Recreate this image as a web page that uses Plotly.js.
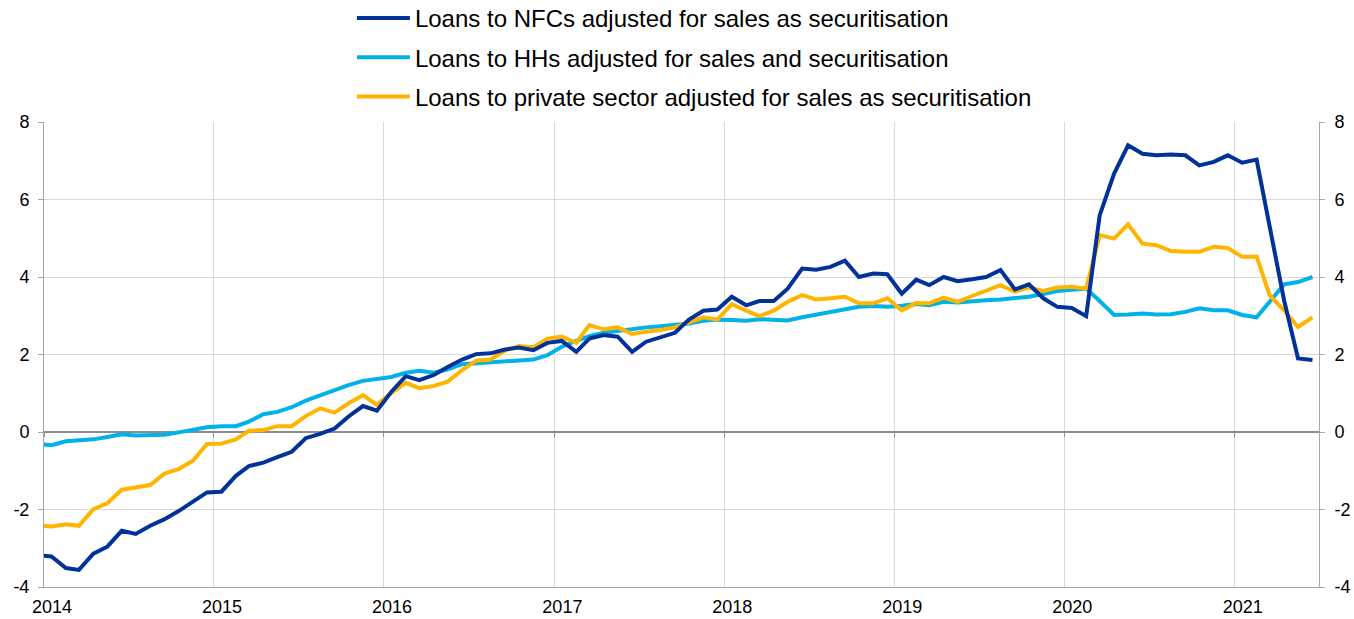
<!DOCTYPE html>
<html>
<head>
<meta charset="utf-8">
<script src="https://cdn.plot.ly/plotly-3.0.1.min.js"></script>
<style>
  html, body { margin: 0; padding: 0; background: #ffffff; }
  #chart { width: 1354px; height: 619px; }
</style>
</head>
<body>
<div id="chart"></div>
<script>
// Monthly observations, Dec 2013 (clipped at the left edge) to Jun 2021
const startYear = 2013;
const startMonth = 12;

const seriesNames = [
  "Loans to NFCs adjusted for sales as securitisation",
  "Loans to HHs adjusted for sales and securitisation",
  "Loans to private sector adjusted for sales as securitisation"
];

const nfcLoans = [
  -3.18,
  -3.21, -3.51, -3.56, -3.14, -2.96, -2.55, -2.63, -2.42, -2.25, -2.04, -1.80, -1.56,
  -1.54, -1.13, -0.88, -0.79, -0.65, -0.51, -0.16, -0.05, 0.09, 0.40, 0.67, 0.55,
  1.04, 1.44, 1.34, 1.47, 1.68, 1.87, 2.01, 2.03, 2.13, 2.18, 2.11, 2.30,
  2.35, 2.07, 2.41, 2.50, 2.46, 2.07, 2.33, 2.44, 2.56, 2.90, 3.13, 3.16,
  3.49, 3.27, 3.38, 3.38, 3.70, 4.22, 4.19, 4.26, 4.42, 4.00, 4.09, 4.07,
  3.57, 3.93, 3.79, 4.00, 3.89, 3.94, 4.00, 4.18, 3.68, 3.81, 3.45, 3.23,
  3.20, 2.99, 5.59, 6.67, 7.40, 7.18, 7.14, 7.16, 7.14, 6.88, 6.97, 7.14,
  6.95, 7.03, 5.29, 3.40, 1.90, 1.86
];

const hhLoans = [
  -0.31,
  -0.34, -0.24, -0.21, -0.19, -0.13, -0.06, -0.09, -0.09, -0.07, -0.01, 0.05, 0.12,
  0.15, 0.15, 0.27, 0.46, 0.52, 0.64, 0.81, 0.95, 1.10, 1.21, 1.32, 1.36,
  1.42, 1.53, 1.58, 1.53, 1.62, 1.75, 1.77, 1.79, 1.81, 1.84, 1.87, 1.98,
  2.20, 2.35, 2.47, 2.56, 2.61, 2.65, 2.70, 2.73, 2.76, 2.80, 2.87, 2.90,
  2.89, 2.87, 2.91, 2.90, 2.88, 2.96, 3.03, 3.10, 3.16, 3.23, 3.25, 3.23,
  3.26, 3.30, 3.27, 3.36, 3.34, 3.38, 3.40, 3.42, 3.45, 3.49, 3.56, 3.64,
  3.67, 3.70, 3.38, 3.02, 3.03, 3.06, 3.03, 3.04, 3.10, 3.19, 3.14, 3.14,
  3.02, 2.96, 3.36, 3.81, 3.87, 4.00
];

const privateLoans = [
  -2.41,
  -2.44, -2.38, -2.42, -1.99, -1.84, -1.49, -1.43, -1.37, -1.07, -0.96, -0.74, -0.31,
  -0.30, -0.19, 0.03, 0.05, 0.15, 0.15, 0.41, 0.61, 0.50, 0.74, 0.95, 0.70,
  1.01, 1.27, 1.13, 1.19, 1.30, 1.60, 1.84, 1.87, 2.10, 2.22, 2.19, 2.41,
  2.46, 2.30, 2.76, 2.65, 2.70, 2.53, 2.59, 2.63, 2.70, 2.82, 2.96, 2.90,
  3.30, 3.13, 2.99, 3.13, 3.36, 3.53, 3.42, 3.45, 3.49, 3.32, 3.32, 3.45,
  3.14, 3.33, 3.32, 3.47, 3.36, 3.51, 3.64, 3.79, 3.62, 3.73, 3.64, 3.73,
  3.75, 3.70, 5.08, 4.99, 5.36, 4.86, 4.82, 4.67, 4.65, 4.65, 4.78, 4.75,
  4.52, 4.53, 3.53, 3.14, 2.71, 2.96
];

const yearTickValues = ["2014-01-01","2015-01-01","2016-01-01","2017-01-01","2018-01-01","2019-01-01","2020-01-01","2021-01-01"];
const yearTickLabels = ["2014","2015","2016","2017","2018","2019","2020","2021"];
const yTickValues = [-4, -2, 0, 2, 4, 6, 8];
const yTickLabels = ["-4", "-2", "0", "2", "4", "6", "8"];

// monthly date categories (plotted near mid-month), one per observation
const months = nfcLoans.map((_, i) => {
  const t = (startMonth - 1) + i;
  const y = startYear + Math.floor(t / 12);
  const m = (t % 12) + 1;
  return y + "-" + String(m).padStart(2, "0") + "-17";
});

const colors = ["#003299", "#00B1EA", "#FFB400"];
const fontFamily = "'Liberation Sans', Arial, sans-serif";

function lineTrace(values, idx, order) {
  return {
    x: months, y: values, type: "scatter", mode: "lines",
    name: seriesNames[idx],
    legendgroup: "g" + idx, legendrank: order,
    line: { color: colors[idx], width: 4 },
    hoverinfo: "x+y"
  };
}

const traces = [
  lineTrace(hhLoans, 1, 2),
  lineTrace(privateLoans, 2, 3),
  lineTrace(nfcLoans, 0, 1),
  { // carrier for the right-hand axis and the tick marks on the zero line
    x: months, y: nfcLoans, xaxis: "x2", yaxis: "y2", type: "scatter", mode: "lines",
    line: { width: 0, color: "rgba(0,0,0,0)" }, showlegend: false, hoverinfo: "skip"
  }
];

const xRange = ["2014-01-01", "2021-07-01"];
const gridColor = "#d9d9d9";
const axisColor = "#a6a6a6";
const tickFont = { family: fontFamily, size: 18, color: "#000000" };

const layout = {
  width: 1354, height: 619,
  margin: { l: 44, r: 35, t: 122, b: 32, pad: 0, autoexpand: false },
  paper_bgcolor: "#ffffff", plot_bgcolor: "#ffffff",
  font: { family: fontFamily, size: 18, color: "#000000" },
  showlegend: true,
  legend: {
    orientation: "v", xref: "paper", x: 0.2415, xanchor: "left",
    yref: "paper", y: 1.271, yanchor: "top",
    traceorder: "grouped", tracegroupgap: 5,
    font: { family: fontFamily, size: 24, color: "#000000" },
    bgcolor: "rgba(0,0,0,0)", borderwidth: 0, itemwidth: 53
  },
  xaxis: {
    type: "date", range: xRange,
    tickmode: "array", tickvals: yearTickValues, ticktext: yearTickLabels,
    showgrid: true, gridcolor: gridColor, gridwidth: 1,
    showline: true, linecolor: axisColor, linewidth: 1,
    ticks: "", ticklabelshift: 8, ticklabelstandoff: 3,
    tickfont: tickFont,
    zeroline: false, fixedrange: true
  },
  xaxis2: {
    type: "date", range: xRange, overlaying: "x", anchor: "free", position: 1/3,
    tickmode: "array", tickvals: yearTickValues,
    showticklabels: false, showgrid: false, showline: false, zeroline: false,
    ticks: "outside", ticklen: 4, tickcolor: "#8c8c8c", tickwidth: 1
  },
  yaxis: {
    range: [-4, 8], tickmode: "array", tickvals: yTickValues, ticktext: yTickLabels,
    showgrid: true, gridcolor: gridColor, gridwidth: 1,
    zeroline: true, zerolinecolor: "#8c8c8c", zerolinewidth: 2,
    showline: true, linecolor: axisColor, linewidth: 1,
    ticks: "outside", ticklen: 5, tickcolor: axisColor, ticklabelstandoff: 5,
    tickfont: tickFont,
    fixedrange: true
  },
  yaxis2: {
    range: [-4, 8], tickmode: "array", tickvals: yTickValues, ticktext: yTickLabels,
    overlaying: "y", side: "right", anchor: "x",
    showgrid: false, zeroline: false,
    showline: true, linecolor: axisColor, linewidth: 1,
    ticks: "outside", ticklen: 5, tickcolor: axisColor, ticklabelstandoff: 6,
    tickfont: tickFont,
    fixedrange: true
  }
};

function stretchLegendKeys(gd) {
  // make each key line 53 px long, ending 5 px before its label
  gd.querySelectorAll(".legend .traces").forEach(function (item) {
    const txt = item.querySelector("text.legendtext");
    const path = item.querySelector(".legendlines path");
    if (!txt || !path) return;
    const tx = parseFloat(txt.getAttribute("x")) || 40;
    path.setAttribute("d", "M" + (tx - 58) + ",0h53");
  });
}

Plotly.newPlot("chart", traces, layout, { displayModeBar: false, staticPlot: true }).then(function (gd) {
  stretchLegendKeys(gd);
});
</script>
</body>
</html>
